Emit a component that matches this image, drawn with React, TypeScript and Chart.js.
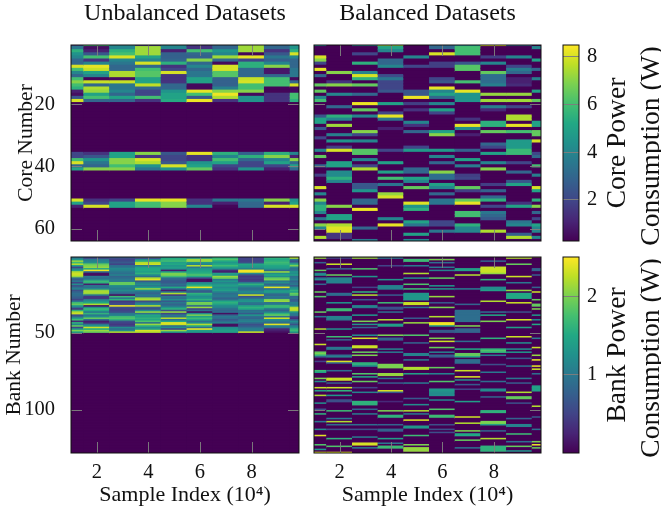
import React, { useEffect, useRef } from "react";
import { Chart, registerables } from "chart.js";
Chart.register(...registerables);

const FONT = "'Liberation Serif', serif";
const columnX = [1, 2, 3, 4, 5, 6, 7, 8, 9, 10];
const xTicks = [2, 4, 6, 8];
const coreTicks = [20, 40, 60];
const bankTicks = [50, 100];
const coreBarTicks = [2, 4, 6, 8];
const bankBarTicks = [1, 2];
const coreRange = [0.28, 8.5];
const bankRange = [0, 2.5];

// Unbalanced core power: values for these rows, everything else is idle
const coreActiveRows = [1,2,3,4,5,6,7,8,9,10,11,12,13,14,15,16,17,18,19,36,37,38,39,40,41,51,52,53];
const coreU1 = [2,3.5,5.5,4.5,4,3,3,8,6,4,3,6,7,6,5.5,1,0.6,2.5,8,2,2,6,8,3,5,8,5,1];
const coreU2 = [6,0.6,1,2.5,6,1.5,4,8.2,7.8,5,4,0.4,7.8,3,7.5,7.2,5,6,3,1.5,2.5,4.5,3.5,3,7,1.5,2,8];
const coreU3 = [4,4,5.5,6,8,4,3.5,3,3,7.5,7.5,0.6,7.8,3.5,3.5,4,3,5,3,5,5,7,7,6,7,2,5,5];
const coreU4 = [1.5,7.3,7.3,7.3,5,4,8,3,6,6.3,6.3,5,5,7.7,3,2,2,6,1.5,7,1.5,8,7.5,4.5,3.5,8.2,6,6];
const coreU5 = [4,4,1,2.8,2.8,3,5.5,1.5,2,8,1.5,1.5,1.5,3,3,4.5,5,5,5.3,2.5,2,2,2.5,8,4.5,8.2,7,7];
const coreU6 = [1.5,1.5,6,3,2.8,7,3,4,3,3.5,3.5,5,5,0.5,0.5,8.2,6,2.5,8.3,8.2,1.5,1.5,4.5,5,6.5,1.5,1.5,4];
const coreU7 = [3,3,4.5,4,7.3,3,0.5,8,8,6.3,6.3,2.8,2.8,2.8,3.8,7,8.3,7.5,1.5,5.5,4,6,5,2,1.5,3.5,1,0.4];
const coreU8 = [7.3,7.3,7.3,0.4,8.2,2,5.5,5.5,3,3,3,7.8,8,6,6,7,0.5,4.5,4.5,2.8,5.5,3,2,2,4.5,3.5,3,3];
const coreU9 = [3,3,1.5,2.5,3.5,2.8,4,7,0.8,0.8,3,6,6,6,0.4,0.4,1.5,1.5,1.5,5.5,7,4,5,2,1,7,1,8];
const coreU10 = [4.5,4.5,5.5,8,4,3,3,3,3.5,3.5,3.5,0.5,3,8,0.5,0.5,6,6,5.5,4,1,7,3,5,3,4.5,5,8];
const coreUnbalanced = [coreU1,coreU2,coreU3,coreU4,coreU5,coreU6,coreU7,coreU8,coreU9,coreU10];

// Balanced core power: [row, watts], unlisted rows are idle
const coreB1 = [[1,4],[5,8],[6,7],[7,2],[9,8.2],[11,3],[14,6.5],[16,6.5],[18,4],[19,6],[24,2.5],[25,5],[26,5],[28,2.5],[31,2],[35,4],[37,6.5],[40,3],[43,1.8],[47,8],[49,4],[51,7],[52,4],[53,5.5],[54,5.5],[55,4],[57,3.5],[59,7],[60,4],[63,7.5]];
const coreB2 = [[10,7],[13,1.5],[14,7],[17,4],[21,3],[24,5.5],[25,4],[27,7.3],[30,3.8],[32,4.5],[34,1.8],[35,8],[39,5],[40,5],[42,4.2],[43,4.2],[44,5.5],[45,4],[53,7],[56,5],[57,5],[59,7.5],[60,8.1],[61,8.1],[62,1.5],[63,1.5]];
const coreB3 = [[1,4],[4,2],[7,5.5],[10,4],[11,8],[12,5.5],[14,6.5],[17,3],[20,8.3],[22,6.5],[24,4],[29,7],[30,2],[32,4],[35,6.3],[36,6.3],[38,4],[40,2],[41,7.5],[46,2.5],[47,2.5],[48,4.5],[51,3],[52,3],[54,8.3],[60,3],[64,3.5]];
const coreB4 = [[1,7.3],[2,5],[3,4],[6,3],[7,3],[8,4],[11,2.2],[12,3.5],[13,2],[14,2],[15,2],[16,2.5],[20,5],[23,2],[24,8.2],[25,3.5],[28,1],[35,2],[39,5],[42,5],[44,6],[46,3.5],[49,7.2],[50,8],[57,4],[59,8.2]];
const coreB5 = [[5,4],[8,2],[16,2.5],[17,2.5],[18,8.3],[20,1.8],[22,1.5],[26,4],[27,1.5],[29,3],[34,2],[35,4.7],[41,3],[42,3],[44,5],[45,4],[47,6.5],[52,8.1],[53,4.5],[54,5.5],[58,5],[59,3.5],[62,5],[64,4]];
const coreB6 = [[1,3],[2,3],[4,8],[7,1.8],[8,1.8],[12,2],[13,2.5],[15,8.2],[16,4],[17,5],[18,3],[20,4],[22,5],[23,2],[29,5],[30,7],[35,4.7],[37,4],[39,3],[42,7],[43,3.2],[44,3.2],[46,5],[47,4],[49,3],[51,3.5],[52,3.5],[58,2],[59,2],[61,3.5]];
const coreB7 = [[1,4.3],[2,6],[3,6],[4,6],[7,2.5],[8,6.3],[9,6.3],[13,6],[16,8.2],[17,4.5],[18,4.5],[19,4.5],[25,1.5],[27,8.2],[28,4.3],[30,1],[35,2.8],[38,5],[40,3.7],[43,1.8],[44,2],[47,6.5],[48,1.8],[51,6.5],[52,8.2],[55,6],[56,6],[59,5.5],[60,4],[61,4]];
const coreB8 = [[1,8.2],[5,1.8],[7,4],[10,6.5],[11,3.2],[12,3.2],[13,3.2],[14,3.8],[17,7.2],[19,7.3],[21,3.8],[22,1.2],[26,5.5],[27,5.5],[29,6.5],[33,3],[34,2],[36,5],[39,4],[41,7],[46,1.8],[48,2.8],[50,3],[51,5.5],[53,2],[55,3.5],[56,3],[57,2.5],[61,7.5]];
const coreB9 = [[1,3],[5,4],[8,2],[9,3.7],[10,3],[12,1],[13,1],[14,1.3],[17,7.2],[19,7.3],[21,2],[24,7.5],[25,7.5],[27,8.2],[29,6],[32,4.7],[33,4.7],[34,4.7],[35,5.8],[36,5.8],[39,2],[42,3],[45,2.5],[46,5],[52,1.5],[53,5],[58,3.5],[59,4],[62,2.8],[63,7.5]];
const coreB10 = [[2,4],[6,5],[9,3],[12,3.8],[16,5],[19,6.5],[26,5],[27,5],[29,6.5],[30,6.5],[32,8],[36,2],[37,3],[40,6],[43,3.8],[47,8],[48,5],[51,5.5],[53,7],[55,3],[57,2],[59,5],[60,4],[61,4],[63,4]];
const coreBalanced = [coreB1,coreB2,coreB3,coreB4,coreB5,coreB6,coreB7,coreB8,coreB9,coreB10];

// Unbalanced bank power: rows 1 to 50, rows above that are idle
const bankU1 = [.9,1,1.3,2.1,1.7,2.2,1.4,.5,1,1.4,2.2,2.3,2.3,2.1,.9,.7,1,.5,1.2,.6,.9,1.1,.6,.8,.9,.9,.8,.7,.5,1,1.7,1.9,1.4,.9,.4,1.6,2.2,2.3,.6,.8,1.4,1.7,.3,1.6,1.1,1.9,.5,1.3,2,1.5];
const bankU2 = [.9,.5,1,1.1,1.2,1.9,2,2.1,1.5,2.45,.9,.1,.1,1,.9,1.1,1.7,1.6,.2,1,.9,1.2,2.1,2.2,2.1,1,.4,.4,1,1.3,1.5,2.2,.1,1.2,1.7,1.5,1,1.6,1,1.2,1.9,.9,.2,.3,1,1.3,2.3,1.5,2.1,1.9];
const bankU3 = [1.1,.6,.5,.6,.7,.5,.9,1,1.2,1.1,1,.9,1.1,.8,.9,1,1,1.9,1.9,1.2,1.1,1,1.2,1,.8,.1,1.7,1,1.6,.4,.5,.6,2.45,.6,.5,.5,.6,1,1.1,1.7,1.8,1.6,.6,.5,.4,.5,1.2,.9,1.2,2.2];
const bankU4 = [2.1,.5,1.2,1.6,2.2,2.3,1,1.4,1.5,1.5,1.4,1.6,1.2,.9,2.2,2.4,.7,1,1.2,1,1.4,2.1,1.2,.9,.8,1,.9,2.1,2.2,.6,.9,1.2,2.2,.7,.6,1.2,2.1,.9,1.5,1.4,1.6,1.5,1.8,.9,2.1,1.6,1.2,1.4,2.35,2.2];
const bankU5 = [.3,1.5,1.6,1.7,1.4,1.5,1.3,1.4,1.3,.2,1.4,2,2,1.7,.9,.8,.7,.7,.9,.8,1.5,.9,.2,1,2.2,.4,1,.9,1.2,.7,1,.8,.9,1.3,1.6,.6,2.1,.5,1,.9,2.2,.9,1.5,2.4,2.3,.9,1.2,.5,2.1,1.3];
const bankU6 = [.8,1.2,2.1,2.1,1.3,1.1,2.2,1,1.3,1.4,1.5,1.6,1.8,1.5,.5,.1,.1,1.1,1.4,1.6,2.4,1.3,.8,.7,1.6,1.4,1.2,1.3,1.6,1.1,2,1.9,.8,2.1,.5,.9,.1,1.2,2,1.4,1.7,1.5,.9,1.2,2.2,1.6,.9,2.45,1.4,1.3];
const bankU7 = [1.6,1.6,1.8,1.5,1.3,1.5,1.7,1.4,1.2,.3,.2,1.4,1.3,2.1,1.9,1,1.3,1.1,1.3,1.4,1.2,1.3,1.4,1.1,.9,1,1,.8,.9,1.5,1.6,1.4,1.2,1.1,.9,.8,.9,.1,.8,1,.9,.7,.9,1.1,.1,.1,1.2,1.3,1.4,1.4];
const bankU8 = [.4,.5,.5,.5,.6,1.5,1.4,1.3,1.1,2.45,2.45,1.2,.6,.4,.5,.4,.5,1,1.6,1.3,1,.9,1,1.2,1,2.3,.6,.9,1.2,1.3,1,.9,1.4,1.6,1.5,.9,1,.7,1.3,.9,.8,1,1.1,.9,.6,.7,.9,1.1,1,2.3];
const bankU9 = [.2,1.6,1.5,1.6,1.7,1.6,1.5,1.4,1.3,.8,2.1,1.2,1.5,1.2,1.9,2,1,1.2,.8,1,2.4,.9,1.3,1.4,1,.8,1,.9,2,2.1,.9,1.1,1.7,1.6,1,.8,1.1,1.6,1.9,.9,2.3,1.2,1,.9,2.4,1.1,.9,.3,.2,.1];
const bankU10 = [2.1,2.2,1,.6,.9,1.6,2,1.1,.9,1,1.3,1.2,1.4,.9,1,1.1,.8,.9,1,.7,1.2,1.3,1.6,1.4,1.9,1.8,.8,.9,.7,.8,1.1,1,1.2,2.2,2.3,2.2,1.3,1,1,.5,.3,.7,1.2,1,.6,1,1.2,1.6,1.7,1.4];
const bankUnbalanced = [bankU1,bankU2,bankU3,bankU4,bankU5,bankU6,bankU7,bankU8,bankU9,bankU10];

// Balanced bank power: [row, watts], unlisted rows are idle
const bankB1 = [[2,2.1],[5,.8],[10,1.9],[12,1.1],[13,1.3],[15,.9],[16,1.2],[19,.8],[24,1.9],[27,1.8],[37,1.9],[40,1],[48,2.2],[58,2.3],[63,1.9],[64,2],[65,1.6],[66,.8],[69,.5],[75,1.7],[76,1.4],[80,2],[82,1.2],[86,2.3],[88,1.4],[91,2.2],[96,1.2],[100,.6],[103,1.6],[108,1],[113,1.2],[117,2.4],[123,1.8],[126,1.3],[128,2.4]];
const bankB2 = [[2,.5],[6,2.3],[9,.8],[13,1.9],[15,1.1],[16,1.1],[17,1.1],[18,1.1],[25,.9],[26,.9],[31,1.3],[35,1.7],[36,1.7],[40,1.1],[41,1.1],[42,1],[48,1.2],[53,1.7],[55,.8],[60,1],[61,1],[65,.9],[66,1.1],[69,2.35],[70,.8],[75,.9],[80,2.3],[81,2.3],[83,.7],[86,2.3],[88,1.6],[91,1.3],[94,.6],[95,.6],[101,1.7],[106,1],[108,2.2],[110,.9],[113,.6],[119,1.6],[124,1.8],[128,2.4]];
const bankB3 = [[2,2.1],[9,1.8],[14,1.3],[21,.5],[24,1.6],[26,2.2],[29,.7],[33,1.2],[34,1],[39,1.3],[43,2],[45,1.3],[47,.8],[52,1.2],[54,2.35],[59,2.3],[60,2.3],[63,1.9],[65,2],[70,1.6],[71,1.6],[72,1.1],[77,1.8],[79,1.5],[82,1.9],[86,.5],[89,1.1],[95,1.6],[96,1.6],[97,1.6],[100,.8],[103,1],[110,.9],[113,.6],[118,1],[122,2.35],[123,2.35],[125,1]];
const bankB4 = [[2,1],[7,.5],[16,1.3],[20,1.1],[21,1.1],[22,1.1],[26,.7],[31,1.7],[34,.6],[35,.6],[37,.9],[42,2.2],[45,1.4],[46,1.4],[52,2],[54,.8],[55,.8],[61,1.1],[63,1],[71,2],[72,2],[73,2],[77,2.1],[78,2.1],[80,.9],[83,.7],[88,2.35],[89,.7],[95,.3],[101,2],[104,1.6],[105,1.6],[110,.8],[113,.8],[114,.8],[119,1.4],[122,1],[124,1.7],[125,1.7]];
const bankB5 = [[3,1.7],[4,1.7],[7,1],[12,2.2],[15,1.2],[19,1.8],[22,1.7],[25,1.3],[26,1.3],[27,1.3],[28,1.3],[29,1.3],[31,2.3],[32,2.3],[34,.9],[41,.7],[44,2.1],[52,1.8],[57,.8],[64,1.1],[65,1.1],[68,1],[73,2.2],[74,2.2],[77,1.4],[83,1],[93,.7],[97,1.2],[101,2.2],[103,1],[107,2.35],[111,1.3],[112,1.3],[117,1.7],[123,2],[125,2.1],[126,2.1],[127,2.1]];
const bankB6 = [[3,2],[5,.9],[8,1],[10,1.1],[15,1.9],[20,1.3],[22,1.3],[27,2.1],[31,.7],[34,2],[40,2.2],[44,2.45],[45,2.45],[46,1.3],[49,.7],[50,.7],[54,2],[56,2.3],[60,1.9],[63,1.1],[65,.8],[66,.7],[73,1.9],[77,1.1],[82,1.8],[87,1.3],[88,1.3],[89,1.2],[90,1.2],[91,1.2],[94,1.1],[100,1.8],[104,1.7],[105,1.7],[110,.6],[113,.6],[115,.6]];
const bankB7 = [[9,1.4],[10,1.4],[13,2.2],[22,1],[32,.8],[36,.9],[37,.9],[38,.9],[39,.9],[40,.9],[41,.9],[42,.9],[43,.9],[46,2],[48,.8],[49,.8],[50,.8],[56,.9],[61,1.5],[64,1.9],[65,1.9],[66,1.5],[68,.9],[69,.9],[70,.9],[75,2.3],[79,2.35],[81,1.2],[84,.7],[87,.5],[95,1.4],[105,2.3],[109,2.2],[114,2],[116,1.5],[117,1.5],[120,1.9],[125,.9]];
const bankB8 = [[4,.8],[8,2.3],[9,2.3],[10,2.3],[11,2.3],[12,2.1],[16,1.6],[21,1.2],[22,1.2],[23,1.4],[30,2.2],[37,.9],[39,1.5],[43,2],[54,1.6],[61,1.6],[62,1.8],[63,1.6],[65,1],[71,.6],[76,1],[82,.9],[87,1.2],[88,1.2],[92,.8],[101,1.6],[102,1.6],[108,2],[109,2],[110,1.4],[114,.8],[119,2.2],[124,1.6],[125,1.6],[126,1.6],[127,1.6]];
const bankB9 = [[2,2.2],[6,1.9],[14,2.3],[18,1],[23,2.1],[25,1.5],[26,1.5],[27,1.5],[28,1.5],[31,2.3],[37,.6],[42,2.35],[47,1.4],[53,2.3],[57,1.2],[61,1.2],[63,1.3],[67,.7],[72,.9],[80,1],[83,.7],[89,2.2],[92,1.9],[93,1.9],[96,.6],[106,.8],[110,1.1],[111,1.1],[116,1.7],[121,.9],[124,1.9],[127,1.3]];
const bankB10 = [[1,2.2],[9,.8],[10,.8],[13,.7],[21,.8],[24,2.3],[29,1.9],[32,1.9],[33,1.9],[35,2],[39,1.3],[42,1.1],[45,1.5],[54,1],[60,2.3],[65,2.1],[68,2.4],[72,2.4],[74,2.3],[77,.9],[85,1.4],[86,1.4],[87,1.4],[88,1.4],[98,2.2],[105,.7],[113,.9],[121,2],[123,2.4],[125,1.9]];
const bankBalanced = [bankB1,bankB2,bankB3,bankB4,bankB5,bankB6,bankB7,bankB8,bankB9,bankB10];

const VIRIDIS = ["#440154","#482475","#414487","#355f8d","#2a788e","#21918c","#22a884","#44bf70","#7ad151","#bddf26","#fde725"];
const hex = (c: string) => [1, 3, 5].map((i) => parseInt(c.slice(i, i + 2), 16));
function viridis(t: number) {
  const p = Math.min(0.9999, Math.max(0, t)) * (VIRIDIS.length - 1);
  const i = Math.floor(p);
  const a = hex(VIRIDIS[i]), b = hex(VIRIDIS[i + 1]);
  return `rgb(${a.map((v, k) => Math.round(v + (b[k] - v) * (p - i))).join(",")})`;
}

const fromPairs = (pairs: number[][], rows: number, idle: number) => {
  const out = new Array(rows).fill(idle);
  pairs.forEach(([r, v]) => (out[r - 1] = v));
  return out;
};
const coreUnbalancedFull = coreUnbalanced.map((col) =>
  fromPairs(coreActiveRows.map((r, i) => [r, col[i]]), 64, coreRange[0]));
const coreBalancedFull = coreBalanced.map((col) => fromPairs(col, 64, coreRange[0]));
const bankUnbalancedFull = bankUnbalanced.map((col) =>
  fromPairs(col.map((v, i) => [i + 1, v]), 128, bankRange[0]));
const bankBalancedFull = bankBalanced.map((col) => fromPairs(col, 128, bankRange[0]));

const GREY = "rgba(125,125,125,0.95)";
const TICK_LEN = 11;
const Y_GUTTER = 71;
const TICK_FONT = 20.5;

const noPadding = (s: any) => { s.paddingTop = 0; s.paddingBottom = 0; s.paddingLeft = 0; s.paddingRight = 0; };

const framePlugin = (withTicks: boolean) => ({
  id: "frame",
  afterDraw(chart: any) {
    const { ctx, chartArea: a, scales } = chart;
    ctx.save();
    if (withTicks) {
      ctx.strokeStyle = GREY;
      ctx.lineWidth = 1;
      ctx.beginPath();
      scales.x.ticks.forEach((t: any) => {
        const px = Math.round(scales.x.getPixelForValue(t.value)) + 0.5;
        ctx.moveTo(px, a.top); ctx.lineTo(px, a.top + TICK_LEN);
        ctx.moveTo(px, a.bottom); ctx.lineTo(px, a.bottom - TICK_LEN);
      });
      scales.y.ticks.forEach((t: any) => {
        const py = Math.round(scales.y.getPixelForValue(t.value)) + 0.5;
        ctx.moveTo(a.left, py); ctx.lineTo(a.left + TICK_LEN, py);
        ctx.moveTo(a.right, py); ctx.lineTo(a.right - TICK_LEN, py);
      });
      ctx.stroke();
    }
    ctx.strokeStyle = "#111";
    ctx.lineWidth = 1;
    ctx.strokeRect(a.left, a.top, a.right - a.left, a.bottom - a.top);
    ctx.restore();
  },
});

function heatmapConfig(o: any) {
  const [lo, hi] = o.range;
  const cells: any[] = [];
  const colors: string[] = [];
  o.columns.forEach((col: number[], c: number) => {
    col.forEach((v, r) => {
      cells.push({ x: columnX[c], y: [r + 0.5, r + 1.5] });
      colors.push(viridis((v - lo) / (hi - lo)));
    });
  });
  return {
    type: "bar",
    data: {
      datasets: [{ data: cells, backgroundColor: colors, borderWidth: 0, barPercentage: 1, categoryPercentage: 1, inflateAmount: 0.5 }],
    },
    plugins: [framePlugin(true)],
    options: {
      animation: false, responsive: false, devicePixelRatio: 1, events: [],
      layout: { padding: o.padding },
      plugins: {
        legend: { display: false }, tooltip: { enabled: false },
        title: o.title
          ? { display: true, text: o.title, color: "#111", fullSize: false,
              font: { family: FONT, size: 24, weight: "normal", lineHeight: 1 },
              padding: { top: 2, bottom: 19 } }
          : { display: false },
      },
      scales: {
        x: {
          type: "linear", min: 1, max: 9.84, offset: false,
          grid: { display: false }, border: { display: false },
          afterBuildTicks: (s: any) => { s.ticks = xTicks.map((value) => ({ value })); },
          afterFit: (s: any) => { s.height = o.xHeight; noPadding(s); },
          ticks: { display: !!o.xTitle, color: "#111", padding: -1, maxRotation: 0, autoSkip: false,
            font: { family: FONT, size: TICK_FONT } },
          title: o.xTitle
            ? { display: true, text: o.xTitle, color: "#111", padding: { top: 0, bottom: 2 },
                font: { family: FONT, size: 22 } }
            : { display: false },
        },
        y: {
          type: "linear", reverse: true, min: 1, max: o.rows,
          grid: { display: false }, border: { display: false },
          afterBuildTicks: (s: any) => { s.ticks = o.yTicks.map((value: number) => ({ value })); },
          afterFit: (s: any) => { s.width = o.yWidth; noPadding(s); },
          ticks: { display: !!o.yTitle, color: "#111", padding: 8, autoSkip: false,
            font: { family: FONT, size: TICK_FONT } },
          title: o.yTitle
            ? { display: true, text: o.yTitle, color: "#111", padding: { top: o.yTitlePad, bottom: 0 },
                font: { family: FONT, size: 21.5 } }
            : { display: false },
        },
      },
    },
  };
}

function colorbarConfig(o: any) {
  const [lo, hi] = o.range;
  const rotated = {
    id: "rotatedLabels",
    afterDraw(chart: any) {
      const { ctx, chartArea: a } = chart;
      ctx.save();
      ctx.fillStyle = "#111";
      ctx.font = `27.5px ${FONT}`;
      ctx.textAlign = "center";
      ctx.textBaseline = "middle";
      o.label.forEach((line: string, i: number) => {
        ctx.save();
        ctx.translate(a.right + 39 + i * 34, (a.top + a.bottom) / 2 + i * 3);
        ctx.rotate(-Math.PI / 2);
        ctx.fillText(line, 0, 0);
        ctx.restore();
      });
      ctx.restore();
    },
  };
  return {
    type: "bar",
    data: {
      labels: [""],
      datasets: [{
        data: [[lo, hi]],
        barPercentage: 1, categoryPercentage: 1, borderWidth: 0,
        backgroundColor: (c: any) => {
          const a = c.chart.chartArea;
          if (!a) return VIRIDIS[0];
          const g = c.chart.ctx.createLinearGradient(0, a.bottom, 0, a.top);
          VIRIDIS.forEach((v, i) => g.addColorStop(i / (VIRIDIS.length - 1), v));
          return g;
        },
      }],
    },
    plugins: [framePlugin(false), rotated],
    options: {
      animation: false, responsive: false, devicePixelRatio: 1, events: [],
      layout: { padding: { left: 8, top: 5, bottom: 5, right: 0 } },
      plugins: { legend: { display: false }, tooltip: { enabled: false } },
      scales: {
        x: { display: false },
        y: {
          position: "right", min: lo, max: hi,
          border: { display: false },
          grid: { z: 1, color: GREY, lineWidth: 1, drawTicks: false },
          afterBuildTicks: (s: any) => { s.ticks = o.ticks.map((value: number) => ({ value })); },
          afterFit: (s: any) => { s.width = 82; noPadding(s); },
          ticks: { color: "#111", padding: 8, autoSkip: false, font: { family: FONT, size: TICK_FONT } },
        },
      },
    },
  };
}

const PANELS = [
  { box: [0, 0, 306, 248], cfg: () => heatmapConfig({ columns: coreUnbalancedFull, range: coreRange, rows: 64, yTicks: coreTicks,
      title: "Unbalanced Datasets", yTitle: "Core Number", yTitlePad: 13, yWidth: Y_GUTTER, xHeight: 0,
      padding: { right: 7, bottom: 7 } }) },
  { box: [306, 0, 243, 248], cfg: () => heatmapConfig({ columns: coreBalancedFull, range: coreRange, rows: 64, yTicks: coreTicks,
      title: "Balanced Datasets", yWidth: 0, xHeight: 0,
      padding: { left: 8, right: 8, bottom: 7 } }) },
  { box: [0, 248, 306, 262], cfg: () => heatmapConfig({ columns: bankUnbalancedFull, range: bankRange, rows: 128, yTicks: bankTicks,
      yTitle: "Bank Number", yTitlePad: 1, xTitle: "Sample Index (10\u2074)", yWidth: Y_GUTTER, xHeight: 57,
      padding: { top: 9, right: 7 } }) },
  { box: [306, 248, 243, 262], cfg: () => heatmapConfig({ columns: bankBalancedFull, range: bankRange, rows: 128, yTicks: bankTicks,
      xTitle: "Sample Index (10\u2074)", yWidth: 0, xHeight: 57,
      padding: { top: 9, left: 8, right: 8 } }) },
  { box: [555, 40, 106, 206], cfg: () => colorbarConfig({ range: coreRange, ticks: coreBarTicks, label: ["Core Power", "Consumption (W)"] }) },
  { box: [555, 252, 106, 206], cfg: () => colorbarConfig({ range: bankRange, ticks: bankBarTicks, label: ["Bank Power", "Consumption (W)"] }) },
];

function Panel({ box, cfg }: any) {
  const ref = useRef<HTMLCanvasElement>(null);
  useEffect(() => {
    const chart = new Chart(ref.current as any, cfg() as any);
    return () => chart.destroy();
  }, []);
  const [left, top, width, height] = box;
  return <canvas ref={ref} width={width} height={height}
    style={{ position: "absolute", left, top, width, height, display: "block" }} />;
}

export default function App() {
  return (
    <div style={{ position: "absolute", left: 0, top: 0, width: 661, height: 510, background: "#fff", overflow: "hidden" }}>
      {PANELS.map((p, i) => <Panel key={i} {...p} />)}
    </div>
  );
}
